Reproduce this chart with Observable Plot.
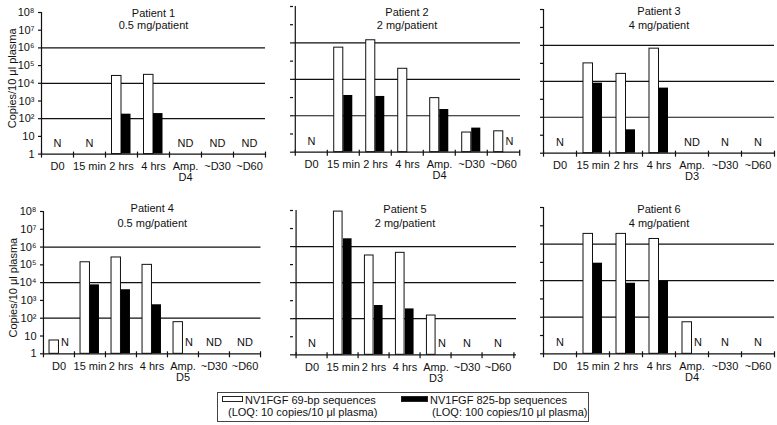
<!DOCTYPE html>
<html><head><meta charset="utf-8">
<script src="https://cdn.jsdelivr.net/npm/d3@7"></script>
<script src="https://cdn.jsdelivr.net/npm/@observablehq/plot@0.6"></script>
<style>
body{margin:0;background:#fff;}
#chart{position:relative;width:777px;height:425px;overflow:hidden;font-family:'Liberation Sans',Arial,sans-serif;color:#111;background:#fff;}
.panel{position:absolute;}
#legend{position:absolute;left:217px;top:392px;width:372px;height:30px;border:1px solid #444;box-sizing:border-box;font-size:11px;}
#legend span{position:absolute;white-space:nowrap;line-height:11px;}
#legend .sw{position:absolute;box-sizing:border-box;border:1px solid #222;}
</style></head><body>
<div id="chart"><div id="legend"></div></div>
<script>
// ---------- data ----------
const categories = ["D0", "15 min", "2 hrs", "4 hrs", "Amp.", "~D30", "~D60"];
const ampDays = ["D4", "D4", "D3", "D5", "D3", "D4"];
const patients = ["Patient 1", "Patient 2", "Patient 3", "Patient 4", "Patient 5", "Patient 6"];
const doses = ["0.5 mg/patient", "2 mg/patient", "4 mg/patient", "0.5 mg/patient", "2 mg/patient", "4 mg/patient"];
// NV1FGF 69-bp sequences (copies/10 µl plasma), null = no bar
const seq69 = [
  [null, null, 2.6e4, 3.0e4, null, null, null],
  [null, 5.5e5, 1.4e6, 3.8e4, 930, 12, 14],
  [null, 1.0e5, 2.6e4, 6.6e5, null, null, null],
  [5.6, 1.4e5, 2.6e5, 1.0e5, 60, null, null],
  [null, 8.7e7, 3.2e5, 4.5e5, 150, null, null],
  [null, 3.6e6, 3.6e6, 1.9e6, 53, null, null]
];
// NV1FGF 825-bp sequences
const seq825 = [
  [null, null, 180, 195, null, null, null],
  [null, 1300, 1150, null, 220, 21, null],
  [null, 7900, 20, 4200, null, null, null],
  [null, 7500, 4000, 570, null, null, null],
  [null, 2.7e6, 540, 350, null, null, null],
  [null, 9.0e4, 7200, 9300, null, null, null]
];
// N / ND annotations
const notDetected = [
  ["N", "N", "", "", "ND", "ND", "ND"],
  ["N", "", "", "", "", "", "N"],
  ["N", "", "", "", "ND", "N", "N"],
  ["N", "", "", "", "N", "ND", "ND"],
  ["N", "", "", "", "N", "N", "N"],
  ["N", "", "", "", "N", "N", "N"]
];
const yTicks = [1, 10, 1e2, 1e3, 1e4, 1e5, 1e6, 1e7, 1e8];
const yTickLabels = ["1", "10", "10²", "10³", "10⁴", "10⁵", "10⁶", "10⁷", "10⁸"];
const gridValues = [1e2, 1e4, 1e6];
const yLabel = "Copies/10 μl plasma";
const legendLabels = ["NV1FGF 69-bp sequences", "NV1FGF 825-bp sequences"];
const legendNotes = ["(LOQ: 10 copies/10 μl plasma)", "(LOQ: 100 copies/10 μl plasma)"];

// ---------- layout ----------
const layout = {
  axisX: [41, 293, 543, 42.5, 293, 543],
  endX: [265, 520, 774, 260, 516, 774],
  top: [11.7, 6, 9, 211, 210, 207],
  bottom: [153.3, 151.7, 152.7, 353.3, 354.3, 353.3],
  title1: [8, 7.5, 7, 204, 205, 205],
  title2: [20.5, 20.7, 20.7, 218.3, 218.3, 218.3],
  yLabelDy: [-5, 0, 0, 5, 0, 0]
};
const ML = 40, MR = 6, MT = 16, MB = 34;
const FONT = "'Liberation Sans', Arial, Helvetica, sans-serif";
const INK = "#111";

const chart = document.getElementById("chart");

for (let p = 0; p < 6; p++) {
  const ax = layout.axisX[p], ex = layout.endX[p];
  const top = layout.top[p], bottom = layout.bottom[p];
  const bw = (ex - ax) / categories.length;
  const W = ex - ax + ML + MR;
  const H = bottom - top + MT + MB;
  const left = p % 3 === 0;
  const rows69 = categories.map((c, i) => ({cat: c, value: seq69[p][i]})).filter(d => d.value != null);
  const rows825 = categories.map((c, i) => ({cat: c, value: seq825[p][i]})).filter(d => d.value != null);
  const notes = categories.map((c, i) => ({cat: c, label: notDetected[p][i], side: seq69[p][i] != null})).filter(d => d.label);
  const barW = 9.5;

  const plot = Plot.plot({
    width: W, height: H,
    marginLeft: ML, marginRight: MR, marginTop: MT, marginBottom: MB,
    style: {background: "transparent", fontFamily: FONT, fontSize: "11px", color: INK, overflow: "visible"},
    x: {type: "band", domain: categories, padding: 0},
    y: {type: "log", domain: [1, 1e8]},
    marks: [
      Plot.ruleY(gridValues, {stroke: INK, strokeWidth: 1.2}),
      Plot.barY(rows69, {x: "cat", y1: () => 1, y2: "value", fill: "#fff", stroke: INK, strokeWidth: 1,
        insetLeft: bw / 2 - barW, insetRight: bw / 2}),
      Plot.barY(rows825, {x: "cat", y1: () => 1, y2: "value", fill: "#000",
        insetLeft: bw / 2, insetRight: bw / 2 - barW}),
      Plot.ruleY([1], {stroke: INK, strokeWidth: 1.2}),
      Plot.ruleX([categories[0]], {dx: -bw / 2, stroke: INK, strokeWidth: 1.2}),
      Plot.ruleX(categories, {y1: () => 1, y2: () => 1, dx: -bw / 2, insetTop: 4, insetBottom: 2, stroke: INK, strokeWidth: 1.2}),
      Plot.ruleX([categories[categories.length - 1]], {y1: () => 1, y2: () => 1, dx: bw / 2, insetTop: 4, insetBottom: 2, stroke: INK, strokeWidth: 1.2}),
      Plot.axisY({ticks: yTicks, tickSize: 3, tickPadding: 4, stroke: INK, strokeWidth: 1.2, label: null,
        tickFormat: d => left ? yTickLabels[Math.round(Math.log10(d))] : ""}),
      Plot.axisX({tickSize: 0, tickPadding: 8, label: null,
        tickFormat: c => c === "Amp." ? `Amp.\n${ampDays[p]}` : c}),
      Plot.text(notes.filter(d => !d.side), {x: "cat", y: () => 1, dy: -11, text: "label", fill: INK}),
      Plot.text(notes.filter(d => d.side), {x: "cat", y: () => 1, dy: -11, dx: 6, text: "label", fill: INK}),
      Plot.text([patients[p]], {frameAnchor: "top", dy: layout.title1[p] - top, text: d => d, fill: INK}),
      Plot.text([doses[p]], {frameAnchor: "top", dy: layout.title2[p] - top, text: d => d, fill: INK}),
      left ? Plot.text([yLabel], {frameAnchor: "left", textAnchor: "middle", rotate: -90, dx: 12 - ax, dy: layout.yLabelDy[p], text: d => d, fill: INK}) : null
    ]
  });
  plot.classList.add("panel");
  plot.style.left = (ax - ML) + "px";
  plot.style.top = (top - MT) + "px";
  chart.insertBefore(plot, document.getElementById("legend"));
}

// ---------- legend ----------
const legend = document.getElementById("legend");
const swatches = [
  {left: 4, top: 3, width: 21, height: 6, bg: "#fff"},
  {left: 183, top: 3, width: 27, height: 6, bg: "#000"}
];
const textPos = [{l1: 27, l2: 10}, {l1: 212, l2: 214}];
swatches.forEach((s, i) => {
  const sw = document.createElement("div");
  sw.className = "sw";
  Object.assign(sw.style, {left: s.left + "px", top: s.top + "px", width: s.width + "px", height: s.height + "px", background: s.bg});
  legend.appendChild(sw);
  const t1 = document.createElement("span");
  t1.textContent = legendLabels[i];
  Object.assign(t1.style, {left: textPos[i].l1 + "px", top: "2px"});
  legend.appendChild(t1);
  const t2 = document.createElement("span");
  t2.textContent = legendNotes[i];
  Object.assign(t2.style, {left: textPos[i].l2 + "px", top: "14px"});
  legend.appendChild(t2);
});
</script>
</body></html>
